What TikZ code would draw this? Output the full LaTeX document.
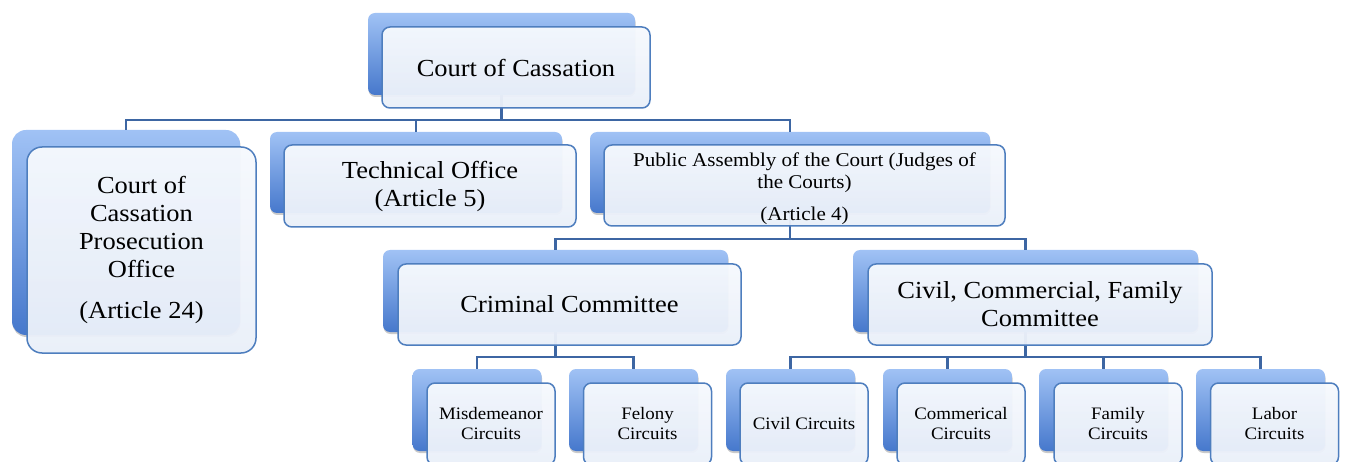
\documentclass[tikz,border=0pt]{standalone}
\usepackage{fontspec}
\setmainfont{Liberation Serif}[FakeStretch=1.08]
\usetikzlibrary{shadows}
\definecolor{backTop}{HTML}{A0C2F5}
\definecolor{backBot}{HTML}{4678CC}
\definecolor{frontTop}{HTML}{F6F9FD}
\definecolor{frontBot}{HTML}{E9EFF9}
\definecolor{frontLine}{HTML}{4E7EBE}
\definecolor{connLine}{HTML}{3D66A3}
\tikzset{
  backbox/.style={rectangle, rounded corners=7pt, top color=backTop, bottom color=backBot,
    draw=none, inner sep=0pt,
    drop shadow={shadow xshift=0.5pt, shadow yshift=-2pt, opacity=0.35, fill=black!60}},
  frontbox/.style={rectangle, rounded corners=8pt, draw=frontLine, line width=1.5pt,
    top color=frontTop, bottom color=frontBot, fill opacity=0.96, text opacity=1,
    inner sep=0pt, align=center, text=black},
  conn/.style={draw=connLine, line width=2.2pt},
  bigtxt/.style={font=\fontsize{24.5}{28}\selectfont},
  midtxt/.style={font=\fontsize{19.5}{22}\selectfont},
  smalltxt/.style={font=\fontsize{17.5}{20}\selectfont},
}
\begin{document}
\begin{tikzpicture}[x=1pt,y=-1pt]
\useasboundingbox (0,0) rectangle (1346,462);
\clip (0,0) rectangle (1346,462);
% back boxes
\node[backbox, minimum width=267pt, minimum height=82pt] (broot) at (501.5,54) {};
\node[backbox, rounded corners=14pt, minimum width=228pt, minimum height=205pt] (bleft) at (126,232.5) {};
\node[backbox, minimum width=292pt, minimum height=81pt] (btech) at (416,172.5) {};
\node[backbox, minimum width=400pt, minimum height=81pt] (bpub) at (790,172.5) {};
\node[backbox, minimum width=345pt, minimum height=82pt] (bcrim) at (555.5,291) {};
\node[backbox, minimum width=345pt, minimum height=82pt] (bciv) at (1025.5,291) {};
\node[backbox, minimum width=129pt, minimum height=82pt] (bmis) at (477,410) {};
\node[backbox, minimum width=129pt, minimum height=82pt] (bfel) at (633.5,410) {};
\node[backbox, minimum width=129pt, minimum height=82pt] (bcc) at (790.5,410) {};
\node[backbox, minimum width=129pt, minimum height=82pt] (bcom) at (947.5,410) {};
\node[backbox, minimum width=129pt, minimum height=82pt] (bfam) at (1103.5,410) {};
\node[backbox, minimum width=129pt, minimum height=82pt] (blab) at (1260.5,410) {};
% bus coordinates
\coordinate (bus1) at (0,120);
\coordinate (bus2) at (0,239);
\coordinate (bus3) at (0,357);
% connectors
\draw[conn] (broot.south) -- (broot.south |- bus1);
\draw[conn] (bleft.north) |- (bpub.north |- bus1) -- (bpub.north);
\draw[conn] (btech.north) -- (btech.north |- bus1);
\draw[conn] (bpub.south) -- (bpub.south |- bus2);
\draw[conn] (bcrim.north) |- (bciv.north |- bus2) -- (bciv.north);
\draw[conn] (bcrim.south) -- (bcrim.south |- bus3);
\draw[conn] (bmis.north) |- (bfel.north |- bus3) -- (bfel.north);
\draw[conn] (bciv.south) -- (bciv.south |- bus3);
\draw[conn] (bcc.north) |- (blab.north |- bus3) -- (blab.north);
\draw[conn] (bcom.north) -- (bcom.north |- bus3);
\draw[conn] (bfam.north) -- (bfam.north |- bus3);
% front boxes
\node[frontbox, bigtxt, minimum width=268pt, minimum height=81pt] (froot) at (516,67.5) {Court of Cassation};
\node[frontbox, bigtxt, rounded corners=15pt, minimum width=229pt, minimum height=206pt] (fleft) at (141.5,250)
  {Court of\\Cassation\\Prosecution\\Office\\[13pt](Article 24)};
\node[frontbox, bigtxt, minimum width=292pt, minimum height=82pt] (ftech) at (430,186) {Technical Office\\(Article 5)};
\node[frontbox, midtxt, minimum width=401pt, minimum height=81pt] (fpub) at (804.5,185.5)
  {\rule{0pt}{20pt}Public Assembly of the Court (Judges of\\the Courts)\\[10pt](Article 4)};
\node[frontbox, bigtxt, minimum width=343pt, minimum height=81pt] (fcrim) at (569.5,304.5) {Criminal Committee};
\node[frontbox, bigtxt, minimum width=344pt, minimum height=81pt] (fciv) at (1040,304.5) {Civil, Commercial, Family\\Committee};
\node[frontbox, smalltxt, minimum width=128pt, minimum height=82pt] (fmis) at (491,424) {Misdemeanor\\Circuits};
\node[frontbox, smalltxt, minimum width=128pt, minimum height=82pt] (ffel) at (647.5,424) {Felony\\Circuits};
\node[frontbox, smalltxt, minimum width=128pt, minimum height=82pt] (fcc) at (804,424) {Civil Circuits};
\node[frontbox, smalltxt, minimum width=128pt, minimum height=82pt] (fcom) at (961,424) {Commerical\\Circuits};
\node[frontbox, smalltxt, minimum width=128pt, minimum height=82pt] (ffam) at (1118,424) {Family\\Circuits};
\node[frontbox, smalltxt, minimum width=128pt, minimum height=82pt] (flab) at (1274.5,424) {Labor\\Circuits};
\end{tikzpicture}
\end{document}
